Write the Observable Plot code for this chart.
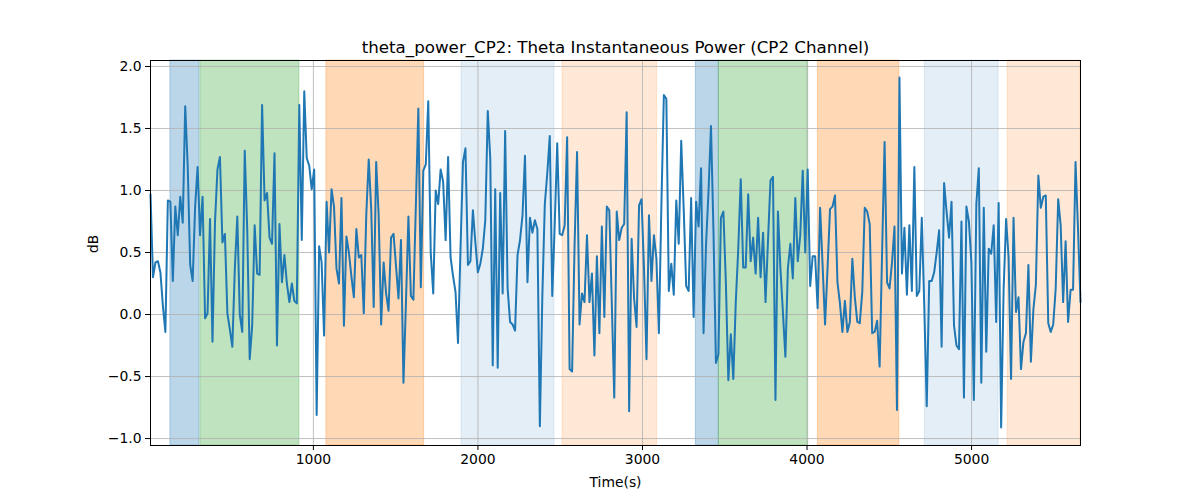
<!DOCTYPE html>
<html><head><meta charset="utf-8">
<script src="https://cdn.jsdelivr.net/npm/d3@7"></script>
<script src="https://cdn.jsdelivr.net/npm/@observablehq/plot@0.6"></script>
<style>body{margin:0;background:#fff;}</style>
</head><body><div id="chart"></div>
<script>
const title = "theta_power_CP2: Theta Instantaneous Power (CP2 Channel)";
const xLabel = "Time(s)";
const yLabel = "dB";
const startTime = 10;
const endTime = 5662;
const power = [
0.97,0.30,0.42,0.43,0.34,0.07,-0.14,0.92,0.91,0.27, 0.87,0.64,0.95,0.74,1.68,1.20,0.40,0.27,0.87,1.19,
0.64,0.95,-0.03,0.01,0.77,-0.22,0.74,1.17,1.27,0.58, 0.65,0.01,-0.12,-0.26,0.37,0.79,0.00,-0.14,1.32,0.69,
-0.36,-0.09,0.72,0.33,0.32,1.69,0.92,0.98,0.62,0.57, 1.30,-0.25,0.73,0.26,0.48,0.25,0.10,0.25,0.11,0.09,
1.69,0.60,1.80,1.26,1.20,1.01,1.17,-0.81,0.55,0.42, -0.17,0.91,0.50,1.01,0.87,0.37,0.25,0.94,-0.09,0.63,
0.50,0.31,0.14,0.69,0.46,0.48,0.01,0.80,1.25,0.85, 0.06,1.23,0.80,-0.08,0.42,0.17,0.03,0.62,0.65,0.39,
0.13,0.60,-0.55,0.09,0.79,0.15,0.12,0.88,1.66,0.22, 1.16,1.21,1.72,0.50,0.17,1.00,0.89,1.17,1.07,0.60,
1.27,0.46,0.31,
0.18,-0.23,0.53,1.23,1.34,0.40,0.43,0.84,0.58,0.34, 0.41,0.53,0.76,1.64,1.26,-0.41,1.01,-0.43,0.98,0.17,
1.48,0.21,-0.06,-0.08,-0.13,0.48,0.60,0.80,1.28,0.26, 0.78,0.66,0.76,0.69,-0.90,0.15,0.89,1.14,1.44,0.15,
0.73,1.38,0.65,0.64,0.72,1.43,-0.44,-0.46,0.56,1.31, -0.08,0.17,0.10,0.64,0.10,0.33,-0.33,0.47,-0.15,0.71,
-0.02,0.87,0.84,
0.10,-0.67,0.83,0.60,0.70,0.73,1.63,-0.78,0.61,0.13, -0.10,0.88,0.93,0.37,-0.36,0.80,0.27,0.64,0.45,-0.15,
0.88,1.77,1.74,0.19,0.41,0.16,0.92,0.57,1.40,0.85, 0.23,0.19,0.94,-0.02,0.91,0.71,1.18,-0.15,0.56,0.99,
1.52,0.68,-0.39,-0.32,0.78,0.83,0.26,-0.53,-0.16,-0.52, 0.10,0.53,1.09,0.38,0.38,0.97,0.43,0.62,0.33,0.78,
0.30,0.66,0.10,
0.60,1.08,1.11,-0.69,0.83,0.37,0.02,-0.34,0.37,0.57, 0.29,0.94,0.43,0.64,1.16,0.50,1.17,0.23,0.47,0.47,
0.05,0.86,0.40,-0.08,0.37,0.85,0.87,0.96,0.26,0.09, -0.14,0.11,-0.14,-0.06,0.45,0.14,-0.06,-0.07,0.18,0.86,
0.83,0.73,-0.15,-0.14,-0.05,-0.42,0.50,1.39,0.26,0.21, 0.42,0.71,-0.77,1.91,0.33,0.70,0.16,0.72,0.19,1.19,
0.15,0.19,
0.78,0.07,-0.74,0.27,0.27,0.34,0.50,0.68,-0.26,1.06, 0.83,0.62,0.91,-0.09,-0.25,-0.28,0.75,-0.67,0.87,0.75,
0.42,-0.69,0.89,1.18,-0.55,0.86,-0.30,0.53,0.49,0.72, -0.06,0.90,-0.91,0.20,0.77,0.46,-0.52,0.78,0.02,0.14,
-0.44,-0.22,-0.15,0.40,-0.38,0.04,0.24,1.12,0.86,0.95, 0.96,-0.07,-0.14,-0.08,0.21,0.93,0.72,0.10,0.59,-0.06,
0.20,0.20,1.23,0.69,0.10
];
const spanStart = [131, 313, 1079, 1900, 2514, 3324, 3464, 4066, 4716, 5219];
const spanEnd   = [307, 915, 1673, 2465, 3089, 3464, 4007, 4561, 5164, 5662];
const spanColor = ["#1f77b4","#2ca02c","#ff7f0e","#1f77b4","#ff7f0e","#1f77b4","#2ca02c","#ff7f0e","#1f77b4","#ff7f0e"];
const spanAlpha = [0.3, 0.3, 0.3, 0.12, 0.17, 0.3, 0.3, 0.3, 0.12, 0.17];
const xTicks = [1000, 2000, 3000, 4000, 5000];
const yTicks = [-1.0, -0.5, 0.0, 0.5, 1.0, 1.5, 2.0];

const step = (endTime - startTime) / (power.length - 1);
const series = power.map((v, i) => ({t: startTime + i * step, v}));
const spans = spanStart.map((s, i) => ({x1: s, x2: spanEnd[i], color: spanColor[i], alpha: spanAlpha[i]}));

const gridStyle = {stroke: "#b0b0b0", strokeOpacity: 1, strokeWidth: 0.8};
const chart = Plot.plot({
  width: 1200, height: 500,
  marginLeft: 150, marginRight: 120, marginTop: 60, marginBottom: 55,
  style: {fontFamily: "DejaVu Sans", fontSize: "13.9px", color: "black", background: "white"},
  x: {domain: [startTime, endTime]},
  y: {domain: [-1.056, 2.048]},
  marks: [
    ...spans.map(s => Plot.rect([s], {x1: "x1", x2: "x2", fill: s.color, fillOpacity: s.alpha, stroke: s.color, strokeOpacity: s.alpha, strokeWidth: 1})),
    Plot.gridX(xTicks, gridStyle),
    Plot.gridY(yTicks, gridStyle),
    Plot.line(series, {x: "t", y: "v", stroke: "#1f77b4", strokeWidth: 2}),
    Plot.frame({stroke: "black", strokeWidth: 1}),
    Plot.axisX(xTicks, {tickSize: 5, tickPadding: 4, tickFormat: d3.format("d"), label: null}),
    Plot.axisY(yTicks, {tickSize: 5, tickPadding: 4, tickFormat: d3.format(".1f"), label: null}),
    Plot.text([xLabel], {text: d => d, frameAnchor: "bottom", dy: 41, fontSize: 13.9}),
    Plot.text([yLabel], {text: d => d, frameAnchor: "left", dx: -57, rotate: -90, fontSize: 13.9}),
    Plot.text([title], {text: d => d, frameAnchor: "top", dy: -19, fontSize: 16.7})
  ]
});
document.getElementById("chart").appendChild(chart);
</script>
</body></html>
